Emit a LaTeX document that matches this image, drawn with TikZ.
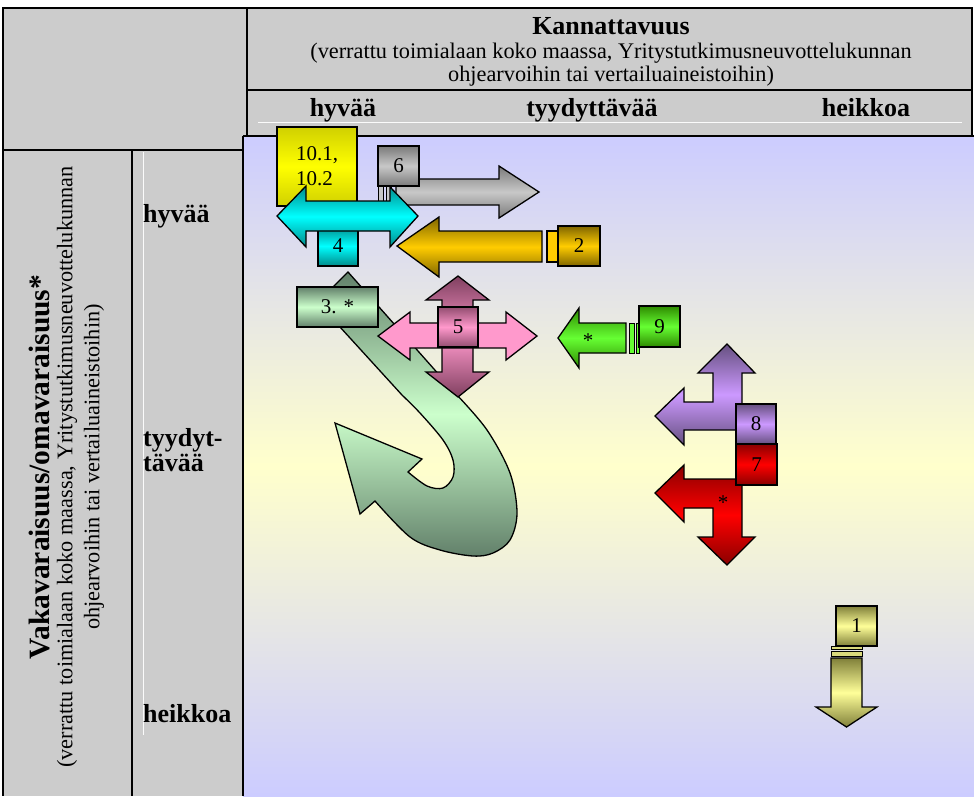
\documentclass[tikz,border=0pt]{standalone}
\usepackage{fontspec}
\setmainfont{Liberation Serif}
\newcommand\fsreg{\fontsize{22.3}{23}\selectfont}
\newcommand\fsbold{\fontsize{26}{25}\selectfont\bfseries}
\newcommand\fsvbold{\fontsize{29.5}{25}\selectfont\bfseries}
\newcommand\fsbox{\fontsize{21}{25}\selectfont}
\definecolor{tgray}{HTML}{CCCCCC}
\definecolor{lav}{HTML}{CCCCFF}
\definecolor{paleyel}{HTML}{FFFFCC}
\definecolor{yeldk}{HTML}{D0D000}
\definecolor{yellt}{HTML}{FFFF00}
\definecolor{graydk}{HTML}{7A7A7A}
\definecolor{graylt}{HTML}{C8C8C8}
\definecolor{cyandk}{HTML}{008A8A}
\definecolor{cyanlt}{HTML}{00FFFF}
\definecolor{golddk}{HTML}{806600}
\definecolor{goldlt}{HTML}{FFCC00}
\definecolor{hookdk}{HTML}{62806A}
\definecolor{hooklt}{HTML}{CCFFCC}
\definecolor{pinkdk}{HTML}{804060}
\definecolor{pinklt}{HTML}{FF99CC}
\definecolor{grndk}{HTML}{2E8A00}
\definecolor{grnlt}{HTML}{66FF33}
\definecolor{purdk}{HTML}{665080}
\definecolor{purlt}{HTML}{CC99FF}
\definecolor{reddk}{HTML}{8A0000}
\definecolor{redlt}{HTML}{FF0000}
\definecolor{khadk}{HTML}{80803A}
\definecolor{khalt}{HTML}{FFFF99}
\tikzset{
 tline/.style={line width=2pt, draw=black},
 faint/.style={line width=1pt, draw=white!92!tgray},
 arr/.style={draw=black, line width=1.3pt, line join=miter},
 threed/.style 2 args={shade, top color=#1, bottom color=#1, middle color=#2},
 box/.style={draw=black, line width=1.3pt, inner sep=0pt, font=\fsbox},
 hlbl/.style={inner sep=0pt, anchor=base, font=\fsbold},
 rlbl/.style={inner sep=0pt, anchor=base, font=\fsreg},
 vlbl/.style={inner sep=0pt, anchor=center, rotate=90},
 star/.style={inner sep=0pt, font=\fsbox},
}
\begin{document}
\begin{tikzpicture}[x=1pt,y=-1pt]
\useasboundingbox (0,0) rectangle (974,796);
% backgrounds
\fill[white] (0,0) rectangle (974,796);
\fill[tgray] (3,8) rectangle (972,136);
\fill[tgray] (3,136) rectangle (243,796);
\shade[top color=lav, bottom color=lav, middle color=paleyel] (243,136) rectangle (974,796);
% faint lines
\draw[faint] (258,122) -- (962,122);
\draw[faint] (143,152) -- (143,735);
% table lines
\draw[tline] (2,8) -- (973,8);
\draw[tline] (3,8) -- (3,796);
\draw[tline] (972,8) -- (972,136);
\draw[tline] (247,8) -- (247,136);
\draw[tline] (247,90) -- (972,90);
\draw[tline] (243,136) -- (974,136);
\draw[tline] (243,136) -- (243,796);
\draw[tline] (3,150) -- (243,150);
\draw[tline] (132,150) -- (132,796);
% header texts
\node[hlbl] (title) at (611,34) {Kannattavuus};
\node[rlbl] (sub1) at (611,58) {(verrattu toimialaan koko maassa, Yritystutkimusneuvottelukunnan};
\node[rlbl] (sub2) at (611,81) {ohjearvoihin tai vertailuaineistoihin)};
\node[hlbl] (c1) at (343,116) {hyvää};
\node[hlbl] (c2) at (592,116) {tyydyttävää};
\node[hlbl] (c3) at (866,116) {heikkoa};
% left column texts
\node[vlbl, font=\fsvbold] (vt) at (39,467) {Vakavaraisuus/omavaraisuus*};
\node[vlbl, font=\fsreg] (vs1) at (67,467) {(verrattu toimialaan koko maassa, Yritystutkimusneuvottelukunnan};
\node[vlbl, font=\fsreg] (vs2) at (94,467) {ohjearvoihin tai vertailuaineistoihin)};
\node[hlbl, anchor=base west] (r1) at (143,222) {hyvää};
\node[hlbl, anchor=north west, align=left] (r2) at (143,428) {tyydyt-\\tävää};
\node[hlbl, anchor=base west] (r3) at (143,722) {heikkoa};
% hook arrow 3
\path[arr, threed={hookdk}{hooklt}] (348,272) -- (457,395)
  -- plot[smooth, tension=0.55] coordinates {(457,395) (487,430) (510,473) (517,513) (510,540) (493,553) (473,556) (440,550) (410,537) (375,501)}
  -- (360,514) -- (335,423) -- (422,459) -- (408,472)
  -- plot[smooth, tension=0.55] coordinates {(408,472) (427,486) (443,488) (453,477) (453,460) (443,440) (420,413) (402,395)}
  -- (340,327) -- (325,295) -- cycle;
\node[box, threed={hookdk}{hooklt}, minimum width=81pt, minimum height=40pt] (b3) at (337.5,307) {3. *};
% pink cross 5
\path[arr, threed={pinkdk}{pinklt}] (458,276) -- (489,300) -- (473,300) -- (473,372) -- (489,372) -- (458,397) -- (426,372) -- (442,372) -- (442,300) -- (426,300) -- cycle;
\path[arr, fill=pinklt] (378,336) -- (410,312) -- (410,323) -- (506,323) -- (506,312) -- (537,336) -- (506,360) -- (506,348) -- (410,348) -- (410,360) -- cycle;
\node[box, threed={pinkdk!85!pinklt}{pinklt}, minimum width=40pt, minimum height=40pt] (b5) at (458,327) {5};
% gray arrow 6
\path[arr, threed={graydk}{graylt}] (396,179) -- (499,179) -- (499,166) -- (539,192) -- (499,218) -- (499,205) -- (396,205) -- cycle;
\node[box, threed={graydk}{graylt}, minimum width=41pt, minimum height=40pt] (b6) at (398.5,166) {6};
\path[arr, line width=1pt, fill=graylt] (378,186) rectangle (383,206);
\path[arr, line width=1pt, fill=graylt] (386,186) rectangle (391,206);
% yellow box 10
\node[box, threed={yeldk}{yellt}, minimum width=80pt, minimum height=79pt, align=left] (b10) at (317,166.5) {10.1,\\10.2};
% cyan box 4 and double arrow
\node[box, threed={cyandk}{cyanlt}, minimum width=40pt, minimum height=40pt] (b4) at (338,246) {4};
\path[arr, threed={cyandk}{cyanlt}] (277,216) -- (306,186) -- (306,201) -- (390,201) -- (390,187) -- (418,216) -- (390,247) -- (390,231) -- (306,231) -- (306,247) -- cycle;
% gold arrow 2
\path[arr, threed={golddk}{goldlt}] (397,246) -- (439,217) -- (439,231) -- (542,231) -- (542,262) -- (439,262) -- (439,277) -- cycle;
\path[arr, fill=goldlt] (547,231) rectangle (558,262);
\node[box, threed={golddk}{goldlt}, minimum width=42pt, minimum height=40pt] (b2) at (579,246) {2};
% green arrow 9
\path[arr, threed={grndk}{grnlt}] (558,338) -- (579,308) -- (579,323) -- (626,323) -- (626,353) -- (579,353) -- (579,368) -- cycle;
\path[arr, line width=1pt, fill=grnlt] (629,323) rectangle (634,353);
\path[arr, line width=1pt, fill=grnlt] (636,323) rectangle (639,353);
\node[box, threed={grndk}{grnlt}, minimum width=41pt, minimum height=41pt] (b9) at (659.5,326.5) {9};
\node[star] (s9) at (588,341) {*};
% purple arrow 8
\path[arr, threed={purdk}{purlt}] (727,344) -- (755,373) -- (742,373) -- (742,430) -- (684,430) -- (684,445) -- (655,416) -- (684,388) -- (684,402) -- (713,402) -- (713,373) -- (698,373) -- cycle;
\node[box, threed={purdk}{purlt}, minimum width=40pt, minimum height=40pt] (b8) at (756,424) {8};
% red arrow 7
\path[arr, threed={reddk}{redlt}] (655,493) -- (684,465) -- (684,479) -- (742,479) -- (742,537) -- (755,537) -- (727,565) -- (698,537) -- (713,537) -- (713,508) -- (684,508) -- (684,522) -- cycle;
\node[box, threed={reddk}{redlt}, minimum width=41pt, minimum height=41pt] (b7) at (756.5,464.5) {7};
\node[star] (s7) at (723,503) {*};
% khaki arrow 1
\node[box, threed={khadk}{khalt}, minimum width=41pt, minimum height=40pt] (b1) at (856.5,626) {1};
\path[arr, line width=1pt, fill=khalt!70!khadk] (831,646) rectangle (862,649);
\path[arr, line width=1pt, fill=khalt!70!khadk] (831,651.5) rectangle (862,656);
\path[arr, threed={khadk}{khalt}] (831,658) -- (862,658) -- (862,707) -- (877,707) -- (846.5,727) -- (816,707) -- (831,707) -- cycle;
\end{tikzpicture}
\end{document}
